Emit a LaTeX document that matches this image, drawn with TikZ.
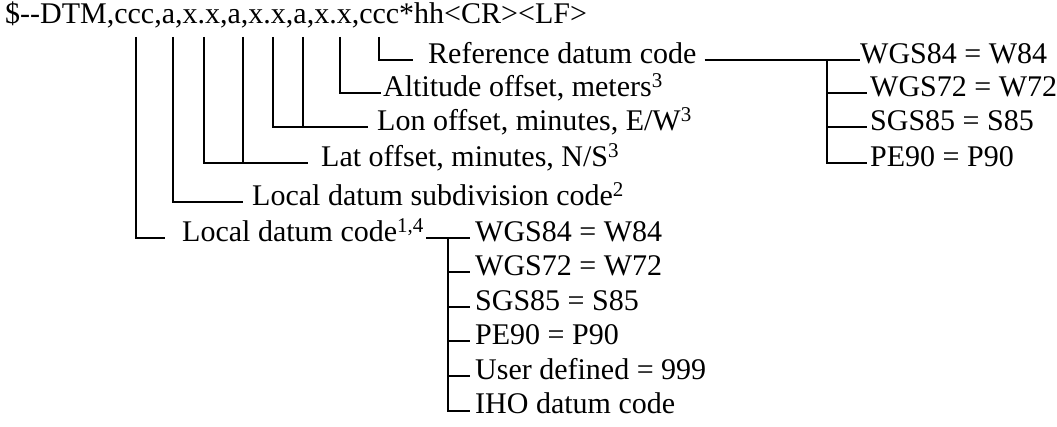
\documentclass[tikz,border=0pt]{standalone}
\usepackage{fontspec}
\setmainfont{Liberation Serif}
\begin{document}
\begin{tikzpicture}[x=1pt,y=-1pt,
  wire/.style={line width=2pt},
  lbl/.style={inner sep=0pt, anchor=west, text height=0.66em, text depth=0pt,
              font=\fontsize{30}{33}\selectfont},
]
\useasboundingbox (0,0) rectangle (1057,427);

% sentence layout
\node[lbl] (hdr) at (5,20)
  {\$\hbox{-}\hbox{-}DTM,ccc,a,x.x,a,x.x,a,x.x,ccc*hh<CR><LF>};

% drop points under the fields
\foreach \n/\x in {1/136,2/173,3/204,4/243,5/273,6/303,7/340,8/379}
  \coordinate (s\n) at (\x,37);

% field descriptions
\node[lbl] (ref) at (428,60)  {Reference datum code};
\node[lbl] (alt) at (383,93)  {Altitude offset, meters\textsuperscript{3}};
\node[lbl] (lon) at (377,127) {Lon offset, minutes, E/W\textsuperscript{3}};
\node[lbl] (lat) at (321,163) {Lat offset, minutes, N/S\textsuperscript{3}};
\node[lbl] (sub) at (252,202) {Local datum subdivision code\textsuperscript{2}};
\node[lbl] (loc) at (182,238) {Local datum code\textsuperscript{1,4}};

% reference datum values
\node[lbl] (rw1) at (860,60)  {WGS84 = W84};
\node[lbl] (rw2) at (870,93)  {WGS72 = W72};
\node[lbl] (rw3) at (870,127) {SGS85 = S85};
\node[lbl] (rw4) at (870,163) {PE90 = P90};
\coordinate (rj) at (827,60);

% local datum values
\node[lbl] (lw1) at (475,238)   {WGS84 = W84};
\node[lbl] (lw2) at (475,272.5) {WGS72 = W72};
\node[lbl] (lw3) at (475,307)   {SGS85 = S85};
\node[lbl] (lw4) at (475,341.5) {PE90 = P90};
\node[lbl] (lw5) at (475,376)   {User defined = 999};
\node[lbl] (lw6) at (475,410.5) {IHO datum code};
\coordinate (lj) at (448,238);

% field leaders
\draw[wire] (s8) |- ([xshift=-15pt]ref.west);
\draw[wire] (s7) |- ([xshift=-2pt]alt.west);
\draw[wire] (s5) |- ([xshift=-9pt]lon.west);
\draw[wire] (s6) -- (s6 |- lon.west);
\draw[wire] (s3) |- ([xshift=-13pt]lat.west);
\draw[wire] (s4) -- (s4 |- lat.west);
\draw[wire] (s2) |- ([xshift=-9pt]sub.west);
\draw[wire] (s1) |- ([xshift=-17pt]loc.west);

% value trees
\draw[wire] ([xshift=8pt]ref.east) -- (rw1.west);
\draw[wire] (rj) |- ([xshift=-3pt]rw4.west);
\foreach \k in {2,3}
  \draw[wire] (rj |- rw\k.west) -- ([xshift=-3pt]rw\k.west);

\draw[wire] ([xshift=2pt]loc.east) -- ([xshift=-5pt]lw1.west);
\draw[wire] (lj) |- ([xshift=-5pt]lw6.west);
\foreach \k in {2,...,5}
  \draw[wire] (lj |- lw\k.west) -- ([xshift=-5pt]lw\k.west);
\end{tikzpicture}
\end{document}
